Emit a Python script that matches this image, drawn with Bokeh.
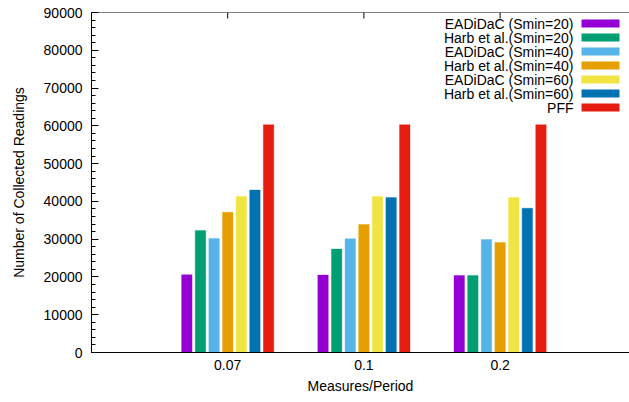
import math
from bokeh.plotting import figure
from bokeh.models import Range1d, FixedTicker, SingleIntervalTicker, ColumnDataSource, Span
from bokeh.embed import file_html
from bokeh.resources import INLINE
from bokeh.core.properties import value

# ---- data ----
categories = ["0.07", "0.1", "0.2"]
series_names = [
    "EADiDaC (Smin=20)",
    "Harb et al.(Smin=20)",
    "EADiDaC (Smin=40)",
    "Harb et al.(Smin=40)",
    "EADiDaC (Smin=60)",
    "Harb et al.(Smin=60)",
    "PFF",
]
eadidac_20 = [20600, 20500, 20400]
harb_20 = [32300, 27400, 20400]
eadidac_40 = [30200, 30100, 29900]
harb_40 = [37100, 33900, 29100]
eadidac_60 = [41300, 41300, 41000]
harb_60 = [43000, 41000, 38200]
pff = [60300, 60300, 60300]
series_values = [eadidac_20, harb_20, eadidac_40, harb_40, eadidac_60, harb_60, pff]
colors = ["#9400d3", "#009e73", "#56b4e9", "#e69f00", "#f0e442", "#0072b2", "#e51e10"]
Y_MAX = 90000

FONT = "Liberation Sans"
FS = "14px"

W, H = 629, 402
X_END = 2.95
p = figure(width=W, height=H, output_backend="svg", toolbar_location=None,
           x_range=Range1d(-1, X_END), y_range=Range1d(0, Y_MAX),
           min_border_left=91, min_border_right=0, min_border_top=12, min_border_bottom=50)
p.outline_line_color = None
p.grid.visible = False
p.background_fill_color = "white"
p.border_fill_color = "white"

# bars
slot = 0.1
bar_w = 0.077
n = len(series_values)
for i, (vals, col, name) in enumerate(zip(series_values, colors, series_names)):
    off = (i - (n - 1) / 2) * slot
    src = ColumnDataSource(dict(x=[k + off for k in range(len(categories))], top=vals))
    p.vbar(x="x", top="top", bottom=0, width=bar_w, source=src,
           fill_color=col, line_color=col, line_alpha=0.35, line_width=1)

# axes
xa = p.xaxis[0]
xa.ticker = FixedTicker(ticks=list(range(len(categories))))
xa.major_label_overrides = {k: c for k, c in enumerate(categories)}
xa.axis_label = "Measures/Period"
xa.major_tick_in = 0
xa.major_tick_out = 0
xa.major_label_standoff = 7
xa.axis_label_standoff = 5

ya = p.yaxis[0]
ya.ticker = SingleIntervalTicker(interval=10000, num_minor_ticks=5)
ya.axis_label = "Number of Collected Readings"
ya.major_tick_in = 7
ya.major_tick_out = 0
ya.minor_tick_in = 4
ya.minor_tick_out = 0
ya.major_label_standoff = 9
ya.axis_label_standoff = 14

for ax in (xa, ya):
    ax.axis_line_color = "black"
    ax.axis_line_width = 1
    ax.major_tick_line_color = "black"
    ax.minor_tick_line_color = "black" if ax is ya else None
    ax.major_label_text_font = FONT
    ax.major_label_text_font_size = FS
    ax.major_label_text_color = "black"
    ax.axis_label_text_font = FONT
    ax.axis_label_text_font_size = FS
    ax.axis_label_text_font_style = "normal"
    ax.axis_label_text_color = "black"

# top border with mirrored x ticks
p.add_layout(Span(location=Y_MAX, dimension="width", line_color="black", line_width=1))
p.ray(x=list(range(len(categories))), y=[Y_MAX] * len(categories), length=6,
      length_units="screen", angle=-math.pi / 2, line_color="black", line_width=1)

# legend (label right-aligned, colour sample on the right)
px_per_x = (W - 91) / (X_END + 1)
px_per_y = 340 / Y_MAX
legend_text_x = -1 + (573 - 91) / px_per_x
legend_swatch_x = -1 + (600 - 91) / px_per_x
legend_swatch_w = 38 / px_per_x
row0 = Y_MAX - (23 - 12) / px_per_y
pitch = 14 / px_per_y
leg = ColumnDataSource(dict(
    tx=[legend_text_x] * n,
    sx=[legend_swatch_x] * n,
    y=[row0 - i * pitch for i in range(n)],
    label=series_names,
    color=colors,
))
p.text(x="tx", y="y", text="label", source=leg, text_align="right", text_baseline="middle",
       text_font=value(FONT), text_font_size=FS, text_color="black")
p.rect(x="sx", y="y", width=legend_swatch_w, height=8, height_units="screen", source=leg,
       fill_color="color", line_color=None)

open("out.html", "w").write(file_html(p, INLINE))
